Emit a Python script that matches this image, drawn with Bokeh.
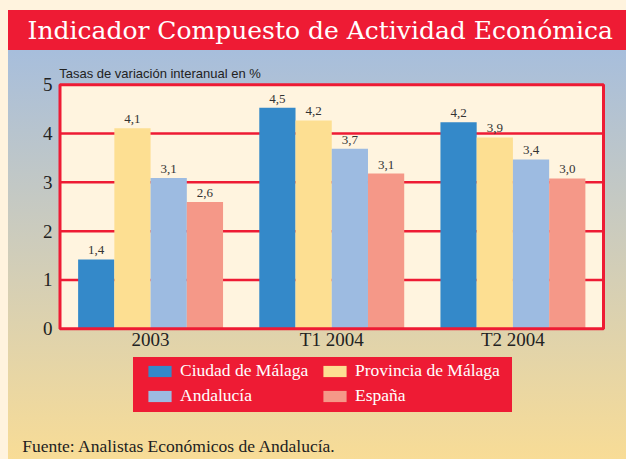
from bokeh.plotting import figure
from bokeh.models import (ColumnDataSource, Range1d, FixedTicker, Legend, LinearAxis,
                          LegendItem, Label, BoxAnnotation, GlobalInlineStyleSheet)
from bokeh.transform import dodge
from bokeh.core.properties import value
from bokeh.embed import file_html
from bokeh.resources import INLINE

# ---- data ----
categories = ["2003", "T1 2004", "T2 2004"]
series_names = ["Ciudad de Málaga", "Provincia de Málaga", "Andalucía", "España"]
ciudad = [1.42, 4.53, 4.23]
provincia = [4.11, 4.27, 3.92]
andalucia = [3.09, 3.69, 3.47]
espana = [2.60, 3.18, 3.08]
ciudad_lbl = ["1,4", "4,5", "4,2"]
provincia_lbl = ["4,1", "4,2", "3,9"]
andalucia_lbl = ["3,1", "3,7", "3,4"]
espana_lbl = ["2,6", "3,1", "3,0"]
y_ticks = [0, 1, 2, 3, 4, 5]

title_text = "Indicador Compuesto de Actividad Económica"
subtitle_text = "Tasas de variación interanual en %"
footer_text = "Fuente: Analistas Económicos de Andalucía."

# ---- styles / layout constants ----
RED = "#EE1B34"
CREAM = "#FFF4DF"
colors = ["#3489C9", "#FDDF92", "#9DBBE1", "#F59888"]
offsets = [-0.3, -0.1, 0.1, 0.3]

W, H = 626, 459
TOP_B, RIGHT_B = 6, 10                 # frame = [0, W-RIGHT_B] x [TOP_B, H]
CH_L, CH_R, CH_T, CH_B = 59.5, 603.0, 84.25, 328.3   # chart box in pixels
n = len(categories)
ymax = max(y_ticks)
sx = (CH_R - CH_L) / n
sy = (CH_B - CH_T) / ymax
x_start = -CH_L / sx
x_end = n + ((W - RIGHT_B) - CH_R) / sx
y_start = -(H - CH_B) / sy
y_end = ymax + (CH_T - TOP_B) / sy

cat_pos = [i + 0.5 for i in range(n)]
src = ColumnDataSource(dict(pos=cat_pos,
                            ciudad=ciudad, provincia=provincia,
                            andalucia=andalucia, espana=espana,
                            ciudad_lbl=ciudad_lbl, provincia_lbl=provincia_lbl,
                            andalucia_lbl=andalucia_lbl, espana_lbl=espana_lbl))
keys = ["ciudad", "provincia", "andalucia", "espana"]

p = figure(width=W, height=H, output_backend="svg", toolbar_location=None,
           x_range=Range1d(x_start, x_end), y_range=Range1d(y_start, y_end),
           x_axis_location=None, y_axis_location=None,
           min_border_left=0, min_border_right=RIGHT_B, min_border_top=TOP_B,
           min_border_bottom=0)

p.border_fill_color = None
p.background_fill_color = None
p.outline_line_color = None
p.xgrid.visible = False
p.ygrid.visible = False

p.styles = {
    "background": (
        "linear-gradient(#FFF3DE, #FFF3DE) 0px 0px / 8px 100% no-repeat, "
        f"linear-gradient({RED}, {RED}) 133px 357px / 379px 55px no-repeat, "
        "linear-gradient(to bottom, #FFF3DE 0px, #FFF3DE 10px, "
        f"{RED} 10px, {RED} 50px, #A7BEDC 50px, #CDCCBC 240px, #F8DC96 100%)"
    ),
}
p.stylesheets = [GlobalInlineStyleSheet(css="body { background: #FFF3DE; }")]

# chart box (cream fill) and grid lines
p.add_layout(BoxAnnotation(left=0, right=n, bottom=0, top=ymax, fill_color=CREAM,
                           fill_alpha=1, line_color=None, level="underlay"))
grid_y = y_ticks[1:-1]
p.segment(x0=[0] * len(grid_y), x1=[n] * len(grid_y), y0=grid_y, y1=grid_y,
          line_color=RED, line_width=2.5)

# axes at fixed locations (labels pushed to the outside with negative standoff)
xaxis = LinearAxis(fixed_location=0, ticker=FixedTicker(ticks=cat_pos),
                   major_label_overrides={pos: c for pos, c in zip(cat_pos, categories)},
                   major_label_standoff=-21)
yaxis = LinearAxis(fixed_location=0, ticker=FixedTicker(ticks=y_ticks),
                   major_label_standoff=-17)
for ax in (xaxis, yaxis):
    ax.axis_line_color = None
    ax.major_tick_line_color = None
    ax.minor_tick_line_color = None
    ax.major_tick_out = 0
    ax.major_tick_in = 0
    ax.major_label_text_font = "Liberation Serif"
    ax.major_label_text_font_size = "19px"
    ax.major_label_text_color = "#222222"
p.add_layout(xaxis, "above")
p.add_layout(yaxis, "right")

# bars + value labels
items = []
for key, name, col, off in zip(keys, series_names, colors, offsets):
    r = p.vbar(x=dodge("pos", off), top=key, width=0.2,
               source=src, fill_color=col, line_color=None)
    items.append(LegendItem(label=name, renderers=[r]))
    p.text(x=dodge("pos", off), y=key, text=key + "_lbl",
           source=src, text_align="center", text_baseline="alphabetic",
           y_offset=-9, text_font=value("Liberation Serif"),
           text_font_size="13px", text_color="#333333")

# chart border on top of bars
p.add_layout(BoxAnnotation(left=0, right=n, bottom=0, top=ymax, fill_color=None,
                           fill_alpha=0, line_color=RED, line_alpha=1, line_width=3,
                           level="annotation"))

legend = Legend(items=items, orientation="horizontal", ncols=2,
                location=(145, 53),
                background_fill_alpha=0, border_line_color=None,
                padding=0, margin=0, spacing=4,
                glyph_width=29, glyph_height=14, label_standoff=6,
                label_height=20, label_width=136,
                label_text_font="Liberation Serif", label_text_font_size="17.5px",
                label_text_color="white")
p.add_layout(legend, "center")

# texts (screen units from the frame's bottom-left corner)
p.add_layout(Label(x=27, y=H - 29.5, x_units="screen", y_units="screen",
                   text=title_text, text_font="DejaVu Serif",
                   text_font_size="25px", text_color="white",
                   text_baseline="alphabetic"))
p.add_layout(Label(x=58.7, y=H - 72.5, x_units="screen", y_units="screen",
                   text=subtitle_text, text_font="Liberation Sans",
                   text_font_size="13px", text_color="#222222",
                   text_baseline="alphabetic"))
p.add_layout(Label(x=21.7, y=H - 445.5, x_units="screen", y_units="screen",
                   text=footer_text, text_font="Liberation Serif",
                   text_font_size="17.5px", text_color="#222222",
                   text_baseline="alphabetic"))

open("out.html", "w").write(file_html(p, INLINE))
